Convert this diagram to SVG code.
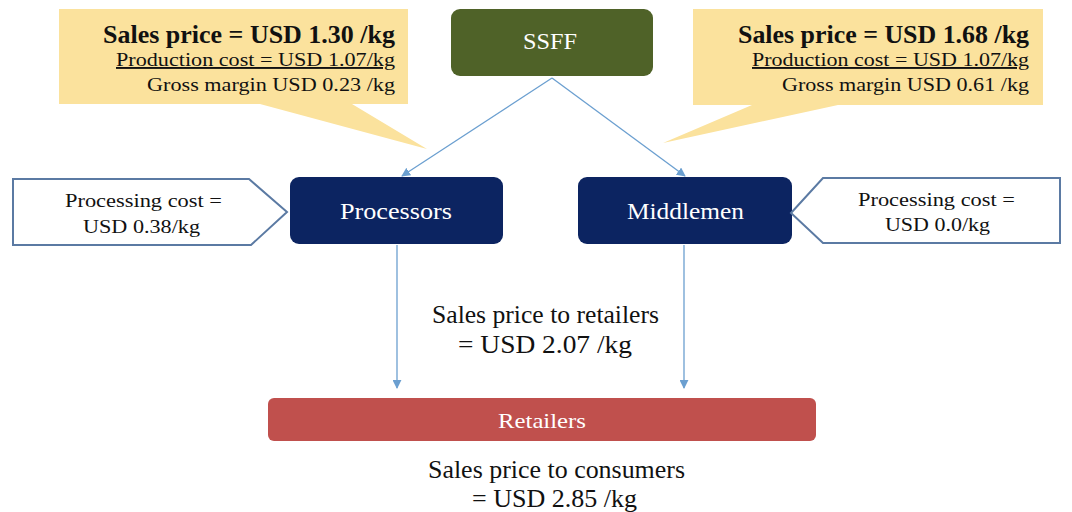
<svg xmlns="http://www.w3.org/2000/svg" width="1072" height="512" viewBox="0 0 1072 512">
<style>
.t{font-family:"Liberation Serif","Times New Roman",serif;fill:#111}
.w{font-family:"Liberation Serif","Times New Roman",serif;fill:#fff}
.call{fill:#fbe29d}
.pent{fill:#fff;stroke:#5b7aa3;stroke-width:2}
.conn{stroke:#6b9fd0;stroke-width:1.3;fill:none}
</style>
<defs>
<marker id="ah" viewBox="0 0 10 10" refX="9" refY="5" markerWidth="9" markerHeight="9" markerUnits="userSpaceOnUse" orient="auto">
<path d="M0,0 L10,5 L0,10 z" fill="#6b9fd0"/>
</marker>
</defs>
<rect width="1072" height="512" fill="#fff"/>
<g id="callout-left">
<path class="call" d="M59,9 H408 V104 H352 L427,149 L260,104 H59 Z"/>
<text class="t" x="103" y="43" font-size="25" font-weight="bold" textLength="292" lengthAdjust="spacingAndGlyphs">Sales price = USD 1.30 /kg</text>
<text class="t" x="116" y="66" font-size="19" textLength="279" lengthAdjust="spacingAndGlyphs" text-decoration="underline">Production  cost = USD  1.07/kg</text>
<text class="t" x="147" y="91" font-size="19" textLength="248" lengthAdjust="spacingAndGlyphs">Gross margin  USD  0.23 /kg</text>
</g>
<g id="callout-right">
<path class="call" d="M693,9 H1043 V105 H838 L663,143 L752,105 H693 Z"/>
<text class="t" x="738" y="43" font-size="25" font-weight="bold" textLength="291" lengthAdjust="spacingAndGlyphs">Sales price = USD 1.68 /kg</text>
<text class="t" x="752" y="66" font-size="19" textLength="277" lengthAdjust="spacingAndGlyphs" text-decoration="underline">Production  cost = USD  1.07/kg</text>
<text class="t" x="782" y="91" font-size="19" textLength="247" lengthAdjust="spacingAndGlyphs">Gross margin  USD  0.61 /kg</text>
</g>
<g id="connectors">
<line class="conn" x1="552" y1="78" x2="402" y2="176" marker-end="url(#ah)"/>
<line class="conn" x1="552" y1="78" x2="685" y2="176" marker-end="url(#ah)"/>
<line class="conn" x1="397" y1="245" x2="397" y2="388" marker-end="url(#ah)"/>
<line class="conn" x1="684" y1="245" x2="684" y2="388" marker-end="url(#ah)"/>
</g>
<g id="ssff">
<rect x="451" y="9" width="202" height="67" rx="9" fill="#4f6228"/>
<text class="w" x="523" y="49" font-size="24" textLength="54" lengthAdjust="spacingAndGlyphs">SSFF</text>
</g>
<g id="processors">
<rect x="290" y="177" width="213" height="67" rx="9" fill="#0c2461"/>
<text class="w" x="340" y="219" font-size="24" textLength="112" lengthAdjust="spacingAndGlyphs">Processors</text>
</g>
<g id="middlemen">
<rect x="578" y="177" width="214" height="67" rx="9" fill="#0c2461"/>
<text class="w" x="627" y="219" font-size="24" textLength="117" lengthAdjust="spacingAndGlyphs">Middlemen</text>
</g>
<g id="proc-cost-left">
<path class="pent" d="M13,179 H249 L287,212 L251,245 H13 Z"/>
<text class="t" x="65" y="207" font-size="19" textLength="157" lengthAdjust="spacingAndGlyphs">Processing cost =</text>
<text class="t" x="83" y="233" font-size="19" textLength="117" lengthAdjust="spacingAndGlyphs">USD  0.38/kg</text>
</g>
<g id="proc-cost-right">
<path class="pent" d="M823,178 H1060 V243 H823 L791,213 Z"/>
<text class="t" x="858" y="206" font-size="19" textLength="157" lengthAdjust="spacingAndGlyphs">Processing cost =</text>
<text class="t" x="885" y="231" font-size="19" textLength="105" lengthAdjust="spacingAndGlyphs">USD  0.0/kg</text>
</g>
<g id="retail-price">
<text class="t" x="432" y="323" font-size="25" textLength="227" lengthAdjust="spacingAndGlyphs">Sales price to retailers</text>
<text class="t" x="458" y="353" font-size="25" textLength="174" lengthAdjust="spacingAndGlyphs">= USD  2.07  /kg</text>
</g>
<g id="retailers">
<rect x="268" y="398" width="548" height="43" rx="6" fill="#c0504d"/>
<text class="w" x="498" y="428" font-size="22" textLength="88" lengthAdjust="spacingAndGlyphs">Retailers</text>
</g>
<g id="consumer-price">
<text class="t" x="428" y="478" font-size="25" textLength="257" lengthAdjust="spacingAndGlyphs">Sales price to consumers</text>
<text class="t" x="472" y="507" font-size="25" textLength="165" lengthAdjust="spacingAndGlyphs">= USD  2.85  /kg</text>
</g>
</svg>
